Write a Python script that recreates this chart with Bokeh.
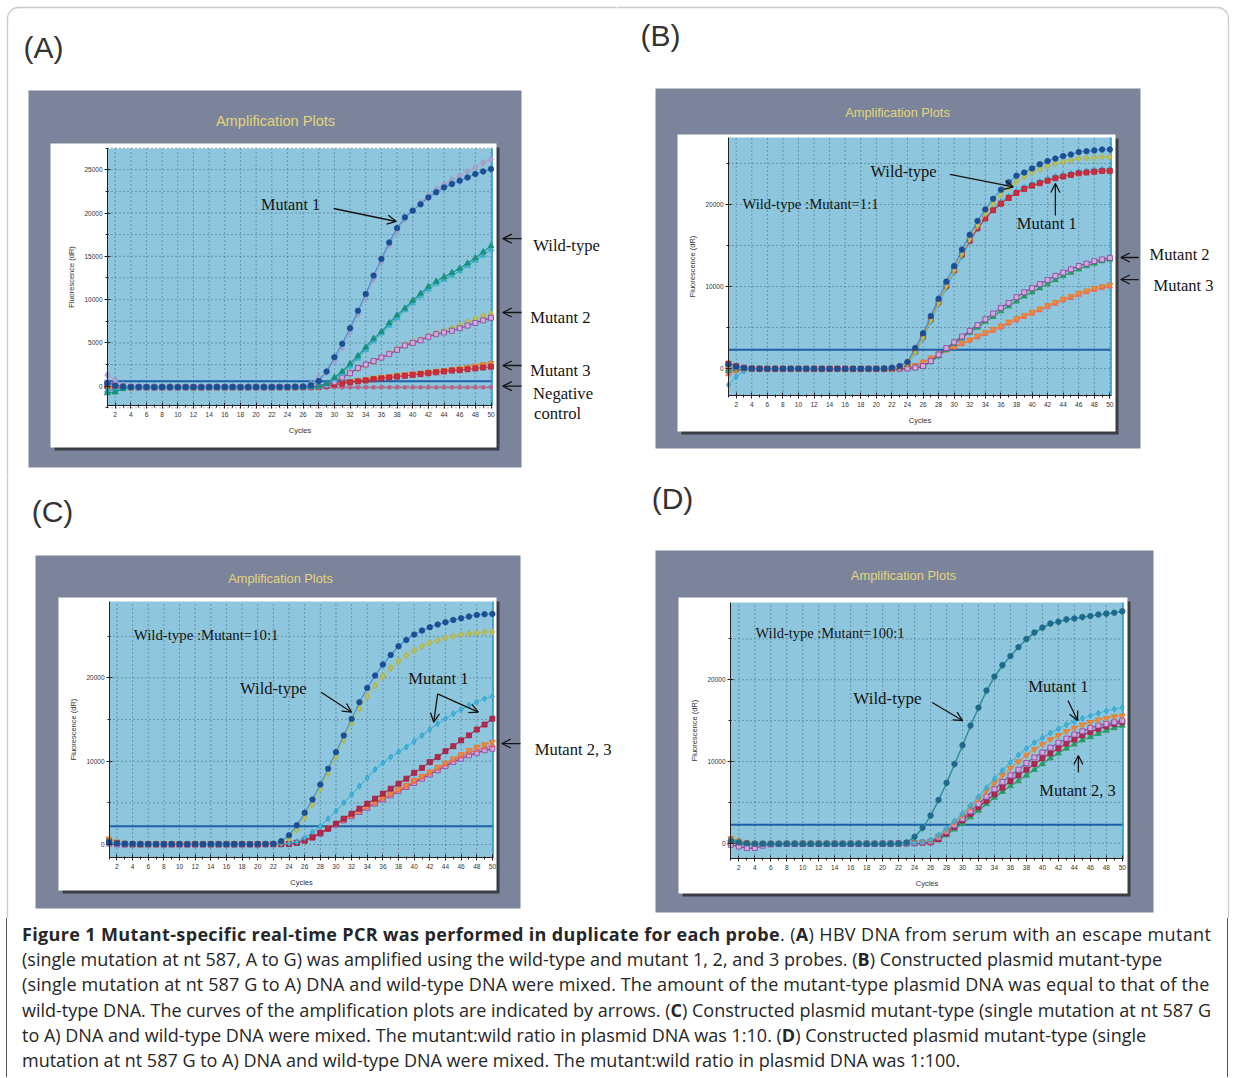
from bokeh.plotting import figure
from bokeh.models import (ColumnDataSource, Range1d, FixedTicker, Label,
                          Arrow, OpenHead, BoxAnnotation, Div)
from bokeh.layouts import column, row
from bokeh.embed import file_html
from bokeh.resources import INLINE

# ---------------------------------------------------------------- data
CYCLES = list(range(1, 51))
X_TICKS = list(range(2, 51, 2))
A_YTICKS = [0, 5000, 10000, 15000, 20000, 25000]
A_YMINOR = [-2500, 0, 2500, 5000, 7500, 10000, 12500, 15000, 17500, 20000, 22500, 25000, 27500]
BCD_YTICKS = [0, 10000, 20000]
BCD_YMINOR = [0, 5000, 10000, 15000, 20000, 25000]

# Panel A: serum HBV DNA, escape mutant
A_MUT1_A = [350, 60, -40, -80, -100, -90, -110, -100, -100, -110,
            -100, -100, -110, -100, -90, -100, -100, -110, -100, -100,
            -90, -100, -90, -80, -70, -40, 100, 600, 1700, 3350,
            4900, 6700, 8700, 10650, 12770, 14700, 16600, 18270, 19500, 20270,
            21000, 21800, 22400, 22960, 23350, 23730, 24100, 24500, 24800, 25080]
A_MUT1_B = [1300, 700, 150, -50, -80, -100, -90, -100, -110, -100,
            -100, -90, -100, -110, -100, -100, -90, -100, -100, -110,
            -100, -90, -80, -80, -60, -20, 300, 1000, 1600, 3000,
            4500, 6300, 8300, 10300, 12400, 14400, 16300, 17900, 19300, 20300,
            21200, 22000, 22700, 23300, 23800, 24300, 24800, 25300, 25800, 26200]
A_WT_A = [-800, -700, -300, -150, -120, -100, -110, -100, -100, -100,
          -110, -100, -100, -100, -110, -100, -100, -100, -90, -100,
          -100, -100, -90, -100, -90, -90, -80, -20, 300, 1000,
          1700, 2600, 3500, 4500, 5500, 6300, 7300, 8200, 9000, 9900,
          10700, 11500, 12100, 12600, 13100, 13600, 14200, 14800, 15500, 16200]
A_WT_B = [-500, -400, -200, -120, -110, -100, -100, -90, -100, -110,
          -100, -100, -110, -100, -100, -90, -100, -100, -100, -100,
          -90, -100, -100, -90, -90, -80, -70, -30, 200, 800,
          1500, 2300, 3200, 4200, 5200, 6100, 7000, 7900, 8800, 9600,
          10400, 11200, 11800, 12300, 12800, 13300, 13900, 14500, 15100, 15800]
A_M2_A = [400, 200, 0, -80, -100, -100, -100, -100, -110, -100,
          -100, -100, -100, -110, -100, -100, -100, -100, -100, -90,
          -100, -100, -90, -90, -80, -80, -60, -40, 100, 500,
          1000, 1500, 2100, 2500, 2900, 3300, 3700, 4200, 4700, 5000,
          5300, 5700, 6000, 6200, 6400, 6700, 7000, 7300, 7600, 7900]
A_M2_B = [100, 0, -60, -100, -100, -110, -100, -100, -100, -100,
          -100, -110, -100, -100, -100, -100, -110, -100, -100, -100,
          -100, -90, -90, -90, -80, -70, -60, -40, 150, 550,
          1000, 1500, 2000, 2400, 2800, 3300, 3800, 4300, 4800, 5100,
          5400, 5800, 6100, 6400, 6700, 7000, 7400, 7800, 8100, 8400]
A_M3_A = [0, -100, -150, -150, -150, -150, -160, -150, -150, -150,
          -150, -150, -160, -150, -150, -150, -150, -150, -160, -150,
          -150, -150, -140, -150, -140, -130, -120, -100, 0, 200,
          300, 450, 550, 650, 800, 900, 1000, 1100, 1200, 1300,
          1400, 1500, 1600, 1700, 1800, 1850, 1950, 2050, 2150, 2250]
A_M3_B = [-300, -250, -200, -180, -170, -160, -160, -170, -160, -160,
          -160, -170, -160, -160, -160, -170, -160, -160, -160, -160,
          -160, -160, -150, -150, -150, -140, -130, -100, 50, 250,
          400, 550, 700, 800, 950, 1050, 1150, 1250, 1350, 1450,
          1550, 1650, 1750, 1850, 1950, 2050, 2200, 2350, 2500, 2650]
A_NEG_A = [200, -50, -100, -120, -120, -130, -120, -120, -130, -120,
           -120, -120, -130, -120, -120, -120, -130, -120, -120, -120,
           -130, -120, -120, -120, -130, -120, -120, -130, -120, -120,
           -120, -130, -120, -120, -120, -130, -120, -120, -120, -130,
           -120, -120, -130, -120, -120, -120, -130, -120, -120, -120]
A_NEG_B = [-600, -400, -250, -220, -210, -200, -210, -200, -200, -210,
           -200, -200, -210, -200, -200, -200, -210, -200, -200, -200,
           -210, -200, -200, -200, -210, -200, -200, -210, -200, -200,
           -200, -210, -200, -200, -200, -210, -200, -200, -200, -210,
           -200, -200, -210, -200, -200, -200, -210, -200, -200, -200]
A_THRESHOLD = 580

# Panel B: wild-type : mutant = 1 : 1
B_WT_A = [500, 200, 50, 0, -20, -30, -20, -30, -30, -20,
          -30, -20, -30, -30, -40, -30, -30, -40, -30, -30,
          0, 100, 300, 800, 2500, 4300, 6400, 8500, 10600, 12500,
          14500, 16300, 18000, 19400, 20700, 21800, 22700, 23500, 23900, 24400,
          24900, 25300, 25600, 25900, 26100, 26400, 26500, 26600, 26700, 26700]
B_WT_B = [300, 100, 0, -30, -30, -40, -30, -40, -40, -30,
          -40, -30, -40, -40, -30, -40, -40, -30, -40, -40,
          -20, 0, 200, 600, 2000, 3800, 5900, 8000, 10100, 12000,
          14000, 15800, 17400, 18900, 20100, 21200, 22100, 22800, 23400, 23900,
          24300, 24700, 25000, 25200, 25400, 25600, 25700, 25700, 25800, 25800]
B_M1_A = [600, 300, 100, 0, -20, -30, -30, -20, -30, -30,
          -20, -30, -30, -30, -20, -30, -30, -30, -20, -30,
          -20, 0, 200, 600, 2100, 3900, 6000, 8100, 10100, 12000,
          13900, 15600, 17100, 18300, 19300, 20100, 20800, 21400, 21900, 22300,
          22600, 22900, 23200, 23400, 23600, 23800, 23900, 24000, 24100, 24100]
B_M1_B = [-2000, -1000, -300, -100, -60, -50, -50, -40, -50, -50,
          -40, -50, -50, -40, -50, -50, -40, -50, -50, -40,
          -30, -10, 150, 500, 1900, 3600, 5700, 7800, 9800, 11700,
          13600, 15400, 17000, 18300, 19400, 20300, 21000, 21600, 22100, 22500,
          22800, 23100, 23400, 23600, 23800, 24000, 24100, 24200, 24300, 24300]
B_M2_A = [200, 100, 0, -40, -50, -50, -40, -50, -50, -40,
          -50, -50, -40, -50, -50, -40, -50, -50, -40, -50,
          -50, -40, -30, 0, 100, 300, 900, 1700, 2500, 3200,
          3900, 4600, 5300, 6000, 6700, 7400, 8000, 8700, 9300, 9800,
          10300, 10800, 11300, 11700, 12100, 12500, 12800, 13100, 13300, 13500]
B_M2_B = [-300, -100, -50, -50, -60, -50, -60, -50, -60, -50,
          -60, -50, -60, -50, -60, -50, -60, -50, -60, -50,
          -50, -40, -30, 0, 80, 250, 800, 1500, 2300, 3000,
          3700, 4400, 5000, 5700, 6300, 7000, 7600, 8200, 8800, 9300,
          9800, 10300, 10800, 11300, 11700, 12100, 12500, 12800, 13100, 13300]
B_M3_A = [-400, -200, -100, -60, -60, -50, -60, -60, -50, -60,
          -60, -50, -60, -60, -50, -60, -60, -50, -60, -60,
          -80, -60, -40, 100, 400, 800, 1300, 1800, 2300, 2700,
          3100, 3500, 4000, 4400, 4800, 5200, 5700, 6100, 6500, 6900,
          7300, 7700, 8100, 8500, 8800, 9200, 9500, 9800, 10000, 10200]
B_M3_B = [-700, -300, -120, -80, -70, -70, -80, -70, -70, -80,
          -70, -70, -80, -70, -70, -80, -70, -70, -80, -70,
          -90, -70, -50, 50, 300, 700, 1200, 1700, 2200, 2600,
          3000, 3400, 3800, 4200, 4600, 5000, 5500, 5900, 6300, 6700,
          7100, 7500, 7900, 8300, 8600, 9000, 9300, 9600, 9800, 10000]
B_THRESHOLD = 2300

# Panel C: wild-type : mutant = 10 : 1
C_WT_A = [300, 150, 100, 80, 60, 50, 50, 40, 50, 50,
          40, 50, 40, 50, 50, 40, 50, 50, 40, 50,
          60, 100, 400, 1100, 2300, 3800, 5400, 7200, 9100, 11080,
          13080, 15080, 17080, 18800, 20280, 21600, 22760, 23800, 24560, 25200,
          25680, 26080, 26400, 26680, 26960, 27160, 27360, 27560, 27640, 27680]
C_WT_B = [500, 250, 120, 80, 70, 60, 60, 50, 60, 60,
          50, 60, 50, 60, 60, 50, 60, 60, 50, 60,
          40, 80, 300, 700, 1800, 3300, 4800, 6700, 8600, 10600,
          12600, 14600, 16300, 17800, 19100, 20200, 21200, 22000, 22700, 23300,
          23800, 24200, 24500, 24800, 25000, 25200, 25300, 25400, 25500, 25500]
C_M1_A = [200, 100, 50, 30, 30, 20, 30, 30, 20, 30,
          30, 20, 30, 30, 20, 30, 30, 20, 30, 30,
          30, 50, 80, 150, 300, 800, 1500, 2200, 3100, 4000,
          5000, 6000, 7000, 8000, 9000, 9800, 10500, 11100, 11700, 12400,
          13100, 13800, 14500, 15100, 15700, 16200, 16700, 17100, 17500, 17800]
C_M1_B = [400, 200, 80, 50, 40, 50, 40, 50, 40, 50,
          40, 50, 40, 50, 40, 50, 40, 50, 40, 50,
          50, 40, 50, 60, 200, 500, 900, 1400, 1900, 2500,
          3100, 3700, 4300, 4900, 5500, 6100, 6700, 7300, 7900, 8600,
          9200, 9900, 10500, 11200, 11800, 12500, 13100, 13800, 14400, 15100]
C_M2 = [700, 300, 100, 30, 20, 20, 30, 20, 20, 30,
        20, 20, 30, 20, 20, 30, 20, 20, 30, 20,
        20, 40, 60, 100, 250, 500, 900, 1500, 2000, 2500,
        3000, 3500, 4000, 4600, 5100, 5600, 6100, 6600, 7100, 7700,
        8200, 8700, 9300, 9800, 10300, 10800, 11300, 11700, 12000, 12300]
C_M3_A = [100, 0, -20, -20, -30, -20, -20, -30, -20, -20,
          -30, -20, -20, -30, -20, -20, -30, -20, -20, -30,
          0, 20, 40, 80, 200, 450, 800, 1300, 1900, 2400,
          2900, 3400, 3900, 4400, 4900, 5400, 5900, 6400, 6900, 7400,
          7900, 8400, 8900, 9400, 9900, 10300, 10700, 11000, 11300, 11500]
C_M3_B = [300, 100, 20, 0, 0, 10, 0, 0, 10, 0,
          0, 10, 0, 0, 10, 0, 0, 10, 0, 0,
          10, 30, 50, 90, 220, 480, 850, 1400, 1950, 2450,
          2950, 3450, 3950, 4500, 5000, 5500, 6000, 6500, 7000, 7550,
          8050, 8550, 9100, 9600, 10100, 10550, 11000, 11350, 11650, 11900]
C_THRESHOLD = 2200

# Panel D: wild-type : mutant = 100 : 1
D_WT_A = [300, 100, 0, -50, -60, -60, -70, -60, -60, -70,
          -60, -70, -60, -60, -70, -60, -60, -60, -70, -60,
          -50, -40, 100, 800, 1900, 3400, 5300, 7400, 9700, 12000,
          14400, 16600, 18700, 20400, 21800, 22900, 24000, 25000, 25800, 26400,
          26900, 27100, 27400, 27500, 27700, 27800, 28000, 28100, 28200, 28400]
D_WT_B = [500, 200, 50, -30, -50, -60, -60, -70, -60, -60,
          -70, -60, -60, -70, -60, -60, -70, -60, -60, -70,
          -50, -30, 80, 700, 1800, 3300, 5200, 7300, 9600, 11900,
          14300, 16500, 18600, 20300, 21700, 22900, 24000, 24900, 25700, 26300,
          26800, 27100, 27300, 27500, 27600, 27800, 27900, 28000, 28200, 28300]
D_M1 = [400, 150, 0, -40, -50, -50, -60, -50, -50, -60,
        -50, -50, -60, -50, -50, -60, -50, -50, -60, -50,
        -40, -30, -20, 50, 150, 400, 1000, 1800, 2700, 3600,
        4600, 5700, 6800, 7900, 8900, 9900, 10800, 11600, 12300, 12900,
        13500, 14000, 14500, 14900, 15300, 15600, 15900, 16200, 16400, 16600]
D_M2_A = [600, 300, 100, 0, -30, -40, -30, -40, -40, -30,
          -40, -40, -30, -40, -40, -30, -40, -40, -30, -40,
          -30, -20, 0, 60, 120, 300, 900, 1600, 2500, 3400,
          4400, 5400, 6400, 7400, 8300, 9200, 10000, 10800, 11500, 12100,
          12700, 13200, 13700, 14100, 14500, 14800, 15100, 15300, 15500, 15600]
D_M2_B = [-200, -400, -600, -600, -300, -150, -100, -80, -70, -60,
          -70, -60, -70, -60, -70, -60, -70, -60, -70, -60,
          -50, -40, -20, 30, 80, 200, 700, 1400, 2200, 3000,
          3900, 4800, 5700, 6600, 7500, 8300, 9000, 9800, 10500, 11100,
          11700, 12300, 12800, 13300, 13700, 14100, 14400, 14600, 14800, 15000]
D_M3_A = [100, -50, -100, -100, -80, -70, -80, -70, -80, -70,
          -80, -70, -80, -70, -80, -70, -80, -70, -80, -70,
          -50, -40, -30, 0, 50, 100, 500, 1200, 2000, 2800,
          3600, 4400, 5200, 6000, 6800, 7600, 8300, 9000, 9700, 10400,
          11000, 11600, 12200, 12700, 13200, 13600, 14000, 14300, 14600, 14800]
D_M3_B = [0, -100, -150, -120, -100, -90, -100, -90, -100, -90,
          -100, -90, -100, -90, -100, -90, -100, -90, -100, -90,
          -60, -50, -40, -10, 30, 100, 400, 1000, 1700, 2400,
          3200, 4000, 4800, 5600, 6300, 7000, 7600, 8300, 9000, 9700,
          10400, 11000, 11600, 12100, 12600, 13000, 13400, 13800, 14100, 14400]
D_THRESHOLD = 2250

CAPTION_LINES = [
    "<span style=\"letter-spacing:0.35px\"><b>Figure 1 Mutant-specific real-time PCR was performed in duplicate for each probe</b>. (<b>A</b>) HBV DNA from serum with an escape mutant</span>",
    "(single mutation at nt 587, A to G) was amplified using the wild-type and mutant 1, 2, and 3 probes. (<b>B</b>) Constructed plasmid mutant-type",
    "<span style=\"letter-spacing:0.12px\">(single mutation at nt 587 G to A) DNA and wild-type DNA were mixed. The amount of the mutant-type plasmid DNA was equal to that of the</span>",
    "wild-type DNA. The curves of the amplification plots are indicated by arrows. (<b>C</b>) Constructed plasmid mutant-type (single mutation at nt 587 G",
    "to A) DNA and wild-type DNA were mixed. The mutant:wild ratio in plasmid DNA was 1:10. (<b>D</b>) Constructed plasmid mutant-type (single",
    "mutation at nt 587 G to A) DNA and wild-type DNA were mixed. The mutant:wild ratio in plasmid DNA was 1:100.",
]

# ---------------------------------------------------------------- styles
PLOT_BG = "#8ec7dd"
FRAME_GRAY = "#7b849a"
SHADOW = "#3a3d46"
TITLE_YELLOW = "#e4d47c"
INK = "#141414"
SERIF = "Liberation Serif"
SANS = "Liberation Sans"

# marker, marker fill, marker line, line colour, size
STY = {
    "navy": ("circle", "#1c4e94", "#1c4e94", "#3d8fcf", 5.5),
    "lav": ("diamond", "#aaa3cc", "#9a92c0", "#aaa3cc", 7),
    "teal": ("triangle", "#17907e", "#17907e", "#17907e", 6),
    "cyanT": ("triangle", "#38b0c6", "#38b0c6", "#38b0c6", 6),
    "purple": ("square", "#d2a8da", "#8c3f9c", "#8c3f9c", 5),
    "olive": ("diamond", "#bcc05a", "#a8ac48", "#bcc05a", 7),
    "red": ("square", "#d02c3c", "#b82030", "#d02c3c", 5),
    "orange": ("inverted_triangle", "#f2883a", "#e07828", "#f2883a", 6),
    "negP": ("square", "#c0608a", "#c0608a", "#c0608a", 3),
    "negG": ("diamond", "#8796ab", "#8796ab", "#8796ab", 4),
    "cyan": ("diamond", "#46b4d8", "#2a9ccc", "#46b4d8", 6),
    "green": ("triangle", "#2a9a62", "#2a9a62", "#2a9a62", 6),
    "salmon": ("triangle", "#ea6e6a", "#ea6e6a", "#ea6e6a", 5.5),
    "maroon": ("square", "#b3284c", "#a01e40", "#b3284c", 5),
    "pink": ("triangle", "#e0607a", "#e0607a", "#e0607a", 5.5),
    "tealC": ("circle", "#1f6a8c", "#1f6a8c", "#2f8cb0", 5.5),
    "seaG": ("diamond", "#3a9a78", "#3a9a78", "#3a9a78", 6),
}

# Layout in page pixels (absolute); plot_px = (left, right, top, bottom) of the plot area
PANELS = [
    dict(key="A", origin=(0, 0), size=(616, 476), plot_px=(107, 492, 148, 405),
         xr=(1.02, 50.19), yr=(-2230, 27450),
         yticks=A_YTICKS, yminor=A_YMINOR, ygrid=A_YMINOR, thr=A_THRESHOLD,
         outer=(28, 521, 90, 467), inner=(50, 496, 143, 447),
         letter=(43, 47), title=(275, 120), tsize="14.6px",
         page_border=(7, 3000, 7, 3000),
         series=[(A_NEG_B, "negG"), (A_NEG_A, "negP"), (A_M3_B, "orange"), (A_M3_A, "red"),
                 (A_M2_B, "olive"), (A_M2_A, "purple"), (A_WT_B, "cyanT"), (A_WT_A, "teal"),
                 (A_MUT1_B, "lav"), (A_MUT1_A, "navy")],
         labels=[("Mutant 1", 24.4, 20980, "center", "16.2px"),
                 ("Wild-type", 55.4, 16250, "left", "16.6px"),
                 ("Mutant 2", 55.0, 7930, "left", "16.6px"),
                 ("Mutant 3", 55.0, 1810, "left", "16.6px"),
                 ("Negative", 59.2, -840, "center", "16.6px"),
                 ("control", 58.5, -3150, "center", "16.6px")],
         arrows=[(29.9, 20520, 37.9, 19020),
                 (53.9, 17050, 51.5, 17050), (53.9, 8510, 51.5, 8510),
                 (53.9, 2390, 51.5, 2390), (53.9, 0, 51.5, 0)]),
    dict(key="B", origin=(616, 0), size=(616, 476), plot_px=(728, 1111, 137, 395),
         xr=(1.01, 50.21), yr=(-3290, 28170),
         yticks=BCD_YTICKS, yminor=BCD_YMINOR, ygrid=BCD_YMINOR, thr=B_THRESHOLD,
         outer=(655, 1140, 88, 448), inner=(677, 1115, 134, 431),
         letter=(660, 35), title=(897, 112), tsize="12.8px",
         page_border=(-2000, 1228, 7, 3000),
         series=[(B_M3_B, "salmon"), (B_M3_A, "orange"), (B_M2_B, "green"), (B_M2_A, "purple"),
                 (B_M1_B, "cyan"), (B_M1_A, "red"), (B_WT_B, "olive"), (B_WT_A, "navy")],
         labels=[("Wild-type :Mutant=1:1", 2.8, 20120, "left", "14.7px"),
                 ("Wild-type", 23.5, 24020, "center", "16.5px"),
                 ("Mutant 1", 41.9, 17680, "center", "16.5px"),
                 ("Mutant 2", 55.1, 13900, "left", "16.5px"),
                 ("Mutant 3", 55.6, 10120, "left", "16.5px")],
         arrows=[(29.45, 23660, 37.6, 22160), (43.0, 18660, 43.0, 22560),
                 (53.7, 13540, 51.4, 13540), (53.7, 10850, 51.4, 10850)]),
    dict(key="C", origin=(0, 476), size=(616, 442), plot_px=(109, 493, 601, 857),
         xr=(1.05, 50.14), yr=(-1560, 29170),
         yticks=BCD_YTICKS, yminor=BCD_YMINOR, ygrid=BCD_YMINOR, thr=C_THRESHOLD,
         outer=(35, 520, 555, 908), inner=(58, 496, 597, 890),
         letter=(52, 511), title=(280, 578), tsize="12.8px",
         page_border=(7, 3000, -3000, 3000),
         series=[(C_M3_A, "purple"), (C_M3_B, "pink"), (C_M2, "orange"), (C_M1_B, "maroon"),
                 (C_M1_A, "cyan"), (C_WT_B, "olive"), (C_WT_A, "navy")],
         labels=[("Wild-type :Mutant=10:1", 4.16, 25090, "left", "14.8px"),
                 ("Wild-type", 22.0, 18730, "center", "16.6px"),
                 ("Mutant 1", 43.1, 19930, "center", "16.6px"),
                 ("Mutant 2, 3", 55.4, 11400, "left", "16.6px")],
         arrows=[(28.1, 18280, 32.0, 15880), (43.0, 18090, 42.5, 14680),
                 (43.0, 18090, 48.2, 15880), (53.6, 12120, 51.2, 12120)]),
    dict(key="D", origin=(616, 476), size=(616, 442), plot_px=(730, 1123, 602, 858),
         xr=(0.96, 50.15), yr=(-1870, 29460),
         yticks=BCD_YTICKS, yminor=BCD_YMINOR, ygrid=BCD_YMINOR, thr=D_THRESHOLD,
         outer=(655, 1153, 550, 912), inner=(678, 1127, 597, 893),
         letter=(672, 498), title=(903, 575), tsize="12.9px",
         page_border=(-2000, 1228, -3000, 3000),
         series=[(D_M3_B, "green"), (D_M3_A, "maroon"), (D_M2_B, "purple"), (D_M2_A, "orange"),
                 (D_M1, "cyan"), (D_WT_B, "seaG"), (D_WT_A, "tealC")],
         labels=[("Wild-type :Mutant=100:1", 4.09, 25670, "left", "14.5px"),
                 ("Wild-type", 20.6, 17710, "center", "17px"),
                 ("Mutant 1", 42.0, 19180, "center", "16.5px"),
                 ("Mutant 2, 3", 44.4, 6450, "center", "16.5px")],
         arrows=[(26.2, 17220, 30.0, 15020), (43.2, 17470, 44.4, 15020),
                 (44.5, 8650, 44.5, 10730)]),
]


def make_panel(cfg):
    ox, oy = cfg["origin"]
    W, H = cfg["size"]
    px0, px1, py0, py1 = cfg["plot_px"]
    X0, X1 = cfg["xr"]
    Y0, Y1 = cfg["yr"]
    sx = (X1 - X0) / (px1 - px0)
    sy = (Y1 - Y0) / (py1 - py0)

    def fx(px):
        return X0 + (px - px0) * sx

    def fy(py):
        return Y0 + (py1 - py) * sy

    p = figure(width=W, height=H, output_backend="svg", toolbar_location=None,
               x_range=Range1d(fx(ox), fx(ox + W)), y_range=Range1d(fy(oy + H), fy(oy)),
               min_border=0, background_fill_color="white", border_fill_color="white",
               outline_line_color=None)
    p.grid.visible = False

    def box(l, r, t, b, fill=None, line=None, lw=1.0, radius=0, level="image"):
        p.add_layout(BoxAnnotation(left=fx(l), right=fx(r), top=fy(t), bottom=fy(b),
                                   fill_color=fill, fill_alpha=1.0 if fill else 0.0,
                                   line_color=line, line_width=lw, border_radius=radius,
                                   level=level))

    ol, orr, ot, ob = cfg["outer"]
    il, ir, it, ib = cfg["inner"]
    box(ol, orr, ot, ob, fill=FRAME_GRAY)
    box(il + 4, ir + 3, it + 4, ib + 3, fill=SHADOW)
    box(il, ir, it, ib, fill="white")
    p.add_layout(BoxAnnotation(left=X0, right=X1, bottom=Y0, top=Y1, fill_color=PLOT_BG,
                               fill_alpha=1.0, line_color=None, level="image"))
    bl_, br_, bt_, bb_ = cfg["page_border"]
    box(bl_, br_, bt_, bb_, line="#555555", lw=1.4, radius=11, level="overlay")

    # grid (dotted), limited to the plot area
    gx = ColumnDataSource(dict(x=X_TICKS, y0=[Y0] * len(X_TICKS), y1=[Y1] * len(X_TICKS)))
    p.segment(x0="x", y0="y0", x1="x", y1="y1", source=gx, line_color="#2f4a62",
              line_dash="1 3", line_alpha=0.8, line_width=1)
    gy = ColumnDataSource(dict(y=cfg["ygrid"], x0=[X0] * len(cfg["ygrid"]), x1=[X1] * len(cfg["ygrid"])))
    p.segment(x0="x0", y0="y", x1="x1", y1="y", source=gy, line_color="#2f4a62",
              line_dash="1 3", line_alpha=0.8, line_width=1)

    # axes fixed on the plot-area edges
    p.xaxis.ticker = FixedTicker(ticks=X_TICKS, minor_ticks=CYCLES)
    p.yaxis.ticker = FixedTicker(ticks=cfg["yticks"], minor_ticks=cfg["yminor"])
    p.xaxis.fixed_location = Y0
    p.yaxis.fixed_location = X0
    p.xaxis.bounds = (X0, X1)
    p.yaxis.bounds = (Y0, Y1)
    p.xaxis.axis_label = "Cycles"
    p.yaxis.axis_label = "Fluorescence (dR)"
    for ax in (p.xaxis[0], p.yaxis[0]):
        ax.major_label_text_font = SANS
        ax.major_label_text_font_size = "6.5px"
        ax.major_label_text_color = "#333333"
        ax.axis_label_text_font = SANS
        ax.axis_label_text_font_size = "7.5px"
        ax.axis_label_text_font_style = "normal"
        ax.axis_label_text_color = "#333333"
        ax.major_tick_in = 3
        ax.major_tick_out = 3
        ax.minor_tick_in = 1
        ax.minor_tick_out = 2
        ax.axis_line_color = "#222222"
        ax.major_tick_line_color = "#222222"
        ax.minor_tick_line_color = "#222222"
    p.yaxis.major_label_standoff = 2
    p.xaxis.major_label_standoff = 3
    p.xaxis.axis_label_standoff = 6
    p.yaxis.axis_label_standoff = 5

    # threshold and right edge line of the plot area
    p.segment(x0=[X0], y0=[cfg["thr"]], x1=[X1], y1=[cfg["thr"]], line_color="#1d5fa6", line_width=2)
    p.segment(x0=[X1 - 0.06], y0=[Y0], x1=[X1 - 0.06], y1=[Y1], line_color="#2a9fd2", line_width=1.5)

    # series
    for vals, sk in cfg["series"]:
        marker, fc, mc, lc, sz = STY[sk]
        src = ColumnDataSource(dict(x=CYCLES, y=vals))
        p.line("x", "y", source=src, line_color=lc, line_width=1.1)
        p.scatter("x", "y", source=src, marker=marker, size=sz, fill_color=fc,
                  line_color=mc, line_width=0.8)

    # annotations
    for text, x, y, align, fs in cfg["labels"]:
        p.add_layout(Label(x=x, y=y, text=text, text_font=SERIF, text_font_size=fs,
                           text_align=align, text_baseline="middle", text_color=INK))
    for xs, ys, xe, ye in cfg["arrows"]:
        p.add_layout(Arrow(end=OpenHead(size=9, line_color=INK, line_width=1.3),
                           x_start=xs, y_start=ys, x_end=xe, y_end=ye,
                           line_color=INK, line_width=1.3))

    tx, ty = cfg["title"]
    p.add_layout(Label(x=fx(tx), y=fy(ty), text="Amplification Plots",
                       text_font=SANS, text_font_size=cfg["tsize"], text_color=TITLE_YELLOW,
                       text_align="center", text_baseline="middle"))
    lx, ly = cfg["letter"]
    p.add_layout(Label(x=fx(lx), y=fy(ly), text="(%s)" % cfg["key"],
                       text_font=SANS, text_font_size="30px", text_color="#333333",
                       text_align="center", text_baseline="middle"))
    return p


figs = [make_panel(c) for c in PANELS]

caption_html = (
    '<div style="margin-left:6px;width:1222px;height:159px;box-sizing:border-box;'
    'border-left:1.4px solid #555;border-right:1.4px solid #555;'
    'padding:4px 0 0 15px;font-family:\'Open Sans\';font-size:18px;line-height:25.2px;'
    'color:#262626;white-space:nowrap;overflow:hidden;">'
    + "<br>".join(CAPTION_LINES) + "</div>"
)
caption = Div(text=caption_html, width=1232, height=159, margin=0)

layout = column(row(figs[0], figs[1]), row(figs[2], figs[3]), caption)
open("out.html", "w").write(file_html(layout, INLINE))
